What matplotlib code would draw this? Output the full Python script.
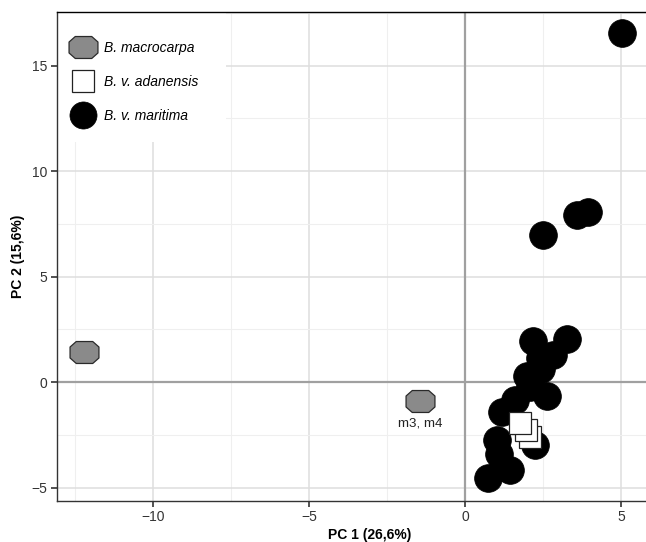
import matplotlib
matplotlib.use("Agg")
import matplotlib.pyplot as plt
from matplotlib.path import Path
from matplotlib.lines import Line2D
from matplotlib.patches import Rectangle
from matplotlib.ticker import MultipleLocator
import numpy as np

plt.rcParams['font.family'] = ['Liberation Sans', 'DejaVu Sans']

# ---- data ----
macro_x = [-12.23, -1.44]
macro_y = [1.45, -0.88]
macro_label = "m3, m4"

adan_x = [2.08, 1.95, 1.76]
adan_y = [-2.58, -2.27, -1.95]

mari_x = [5.02, 3.58, 3.95, 2.51, 2.19, 3.26, 2.82, 2.40, 2.45, 1.98, 2.08, 2.62,
          1.60, 1.18, 1.02, 1.10, 2.24, 1.22, 1.44, 0.74]
mari_y = [16.54, 7.92, 8.08, 6.98, 1.95, 2.05, 1.30, 1.15, 0.60, 0.30, -0.25, -0.65,
          -0.85, -1.40, -2.74, -3.40, -2.98, -4.02, -4.16, -4.55]

series_names = ["B. macrocarpa", "B. v. adanensis", "B. v. maritima"]
x_ticks = [-10, -5, 0, 5]
y_ticks = [-5, 0, 5, 10, 15]
x_label = "PC 1 (26,6%)"
y_label = "PC 2 (15,6%)"

# ---- octagon marker ----
oct_verts = [(1, 0.38), (0.57, 0.76), (-0.57, 0.76), (-1, 0.38),
             (-1, -0.38), (-0.57, -0.76), (0.57, -0.76), (1, -0.38), (1, 0.38)]
oct_codes = [Path.MOVETO] + [Path.LINETO] * 7 + [Path.CLOSEPOLY]
octagon = Path(oct_verts, oct_codes)

W, H = 646, 542
fig = plt.figure(figsize=(W / 100, H / 100), dpi=100)
ax = fig.add_axes([56.7 / W, (H - 500.7) / H, (683 - 56.7) / W, (500.7 - 11.7) / H])
ax.set_xlim(-13.09, 6.99)
ax.set_ylim(-5.62, 17.56)

# grid
ax.xaxis.set_major_locator(plt.FixedLocator(x_ticks))
ax.yaxis.set_major_locator(plt.FixedLocator(y_ticks))
ax.xaxis.set_minor_locator(MultipleLocator(2.5))
ax.yaxis.set_minor_locator(MultipleLocator(2.5))
ax.grid(True, which='major', color='#dedede', lw=1.1, zorder=0)
ax.grid(True, which='minor', color='#efefef', lw=0.8, zorder=0)
ax.set_axisbelow(True)
ax.axhline(0, color='#a0a0a0', lw=1.6, zorder=1)
ax.axvline(0, color='#a0a0a0', lw=1.6, zorder=1)

# legend background
ax.add_patch(Rectangle((0, 1 - 130 / 489), 169 / 626.3, 130 / 489,
                       transform=ax.transAxes, facecolor='white',
                       edgecolor='none', zorder=1.5))

# points
ax.plot(macro_x, macro_y, linestyle='none', marker=octagon, markersize=20.8,
        markerfacecolor='#8a8a8a', markeredgecolor='#2a2a2a', markeredgewidth=0.9, zorder=3)
ax.plot(mari_x, mari_y, linestyle='none', marker='o', markersize=20.0,
        markerfacecolor='black', markeredgecolor='black', markeredgewidth=0.5, zorder=3)
for xx, yy in zip(adan_x, adan_y):
    ax.plot([xx], [yy], linestyle='none', marker='s', markersize=16.5,
            markerfacecolor='white', markeredgecolor='#222222', markeredgewidth=0.9, zorder=4)

ax.annotate(macro_label, (macro_x[1], macro_y[1]), xytext=(0, -16.3),
            textcoords='offset points', ha='center', va='center',
            fontsize=9.6, color='#222222', zorder=5)

# legend
handles = [
    Line2D([], [], linestyle='none', marker=octagon, markersize=20.8,
           markerfacecolor='#8a8a8a', markeredgecolor='#2a2a2a', markeredgewidth=0.9),
    Line2D([], [], linestyle='none', marker='s', markersize=16.5,
           markerfacecolor='white', markeredgecolor='#222222', markeredgewidth=0.9),
    Line2D([], [], linestyle='none', marker='o', markersize=19.5,
           markerfacecolor='black', markeredgecolor='black', markeredgewidth=0.5),
]
leg = ax.legend(handles, series_names, loc='upper left',
                bbox_to_anchor=(10 / 626.3, 1 - 24 / 489), frameon=False,
                prop={'style': 'italic', 'size': 10}, labelspacing=1.46,
                handlelength=1.6, handletextpad=0.74, borderaxespad=0.0,
                borderpad=0.35)
leg.set_zorder(6)

# spines and ticks
for s in ['left', 'bottom']:
    ax.spines[s].set_color('#333333')
    ax.spines[s].set_linewidth(1.0)
ax.spines['top'].set_color('black')
ax.spines['top'].set_linewidth(1.0)
ax.spines['right'].set_visible(False)
ax.tick_params(which='major', length=4, width=1.1, color='#222222',
               labelsize=10, labelcolor='#333333', pad=2.5)
ax.tick_params(which='minor', length=0)

ax.set_xlabel(x_label, fontsize=10, fontweight='bold', labelpad=3)
ax.set_ylabel(y_label, fontsize=10, fontweight='bold', labelpad=5)

fig.savefig("out.png", dpi=100)
